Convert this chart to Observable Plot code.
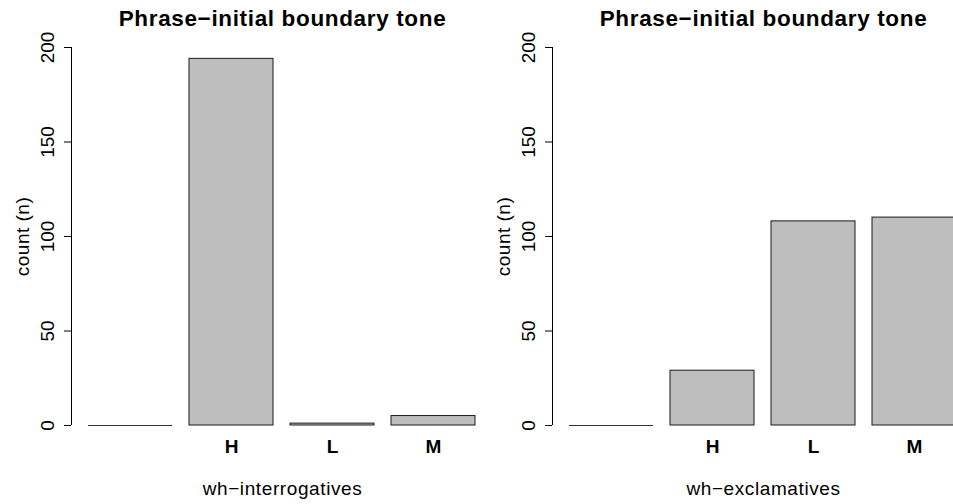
<!DOCTYPE html>
<html><head><meta charset="utf-8">
<script src="https://cdn.jsdelivr.net/npm/d3@7"></script>
<script src="https://cdn.jsdelivr.net/npm/@observablehq/plot@0.6"></script>
<style>
body{margin:0;background:#fff;overflow:hidden}
#wrap{position:relative;width:953px;height:504px;overflow:hidden;background:#fff}
.panel{position:absolute;top:0;width:493px;height:504px}
.panel svg{background:transparent !important;overflow:visible;max-width:none !important}
</style>
</head><body><div id="wrap"></div>
<script>
const categories = ["", "H", "L", "M"];
const interrogatives = [0, 194, 1, 5];
const exclamatives = [0, 29, 108, 110];
const yTicks = [0, 50, 100, 150, 200];
const title = "Phrase\u2212initial boundary tone";
const yLabel = "count (n)";
const panelNames = ["wh\u2212interrogatives", "wh\u2212exclamatives"];
const panelValues = [interrogatives, exclamatives];

const wrap = document.getElementById("wrap");
const font = "'Liberation Sans', Arial, Helvetica, sans-serif";

// y axis line spanning the tick range, drawn through the plot's own y scale
function axisLine(index, scales, values, dimensions) {
  const ln = document.createElementNS("http://www.w3.org/2000/svg", "line");
  const x = dimensions.marginLeft + 0.5;
  ln.setAttribute("x1", x);
  ln.setAttribute("x2", x);
  ln.setAttribute("y1", scales.y(d3.min(yTicks)));
  ln.setAttribute("y2", scales.y(d3.max(yTicks)));
  ln.setAttribute("stroke", "black");
  ln.setAttribute("stroke-width", 1);
  return ln;
}

panelNames.forEach((name, p) => {
  const data = categories.map((c, i) => ({cat: c, value: panelValues[p][i]}));
  const chart = Plot.plot({
    width: 493,
    height: 504,
    marginLeft: 71,
    marginRight: 0,
    marginTop: 47,
    marginBottom: 79,
    style: {fontFamily: font, fontSize: "19px", color: "black", background: "transparent", overflow: "visible"},
    x: {domain: categories, paddingInner: 0.2 / 1.2, paddingOuter: 0.1533, axis: null},
    y: {domain: [0, 200], axis: null},
    marks: [
      Plot.barY(data, {x: "cat", y: "value", fill: "#bebebe", stroke: "#1a1a1a", strokeWidth: 1}),
      Plot.tickY(data.filter(d => d.value === 0), {x: "cat", y: "value", stroke: "#333", strokeWidth: 1}),
      Plot.axisY({ticks: yTicks, tickSize: 7, fill: "none", stroke: "black", strokeOpacity: 1, label: null}),
      axisLine,
      Plot.text(yTicks, {y: d => d, text: d => String(d), frameAnchor: "left", textAnchor: "middle", lineAnchor: "middle", dx: -24, rotate: -90, fontSize: 19, fill: "black"}),
      Plot.text(categories, {x: d => d, text: d => d, frameAnchor: "bottom", textAnchor: "middle", lineAnchor: "middle", dy: 21, fontSize: 19, fontWeight: "bold", fill: "black"}),
      Plot.text([title], {text: d => d, frameAnchor: "top", textAnchor: "middle", lineAnchor: "middle", dy: -29, fontSize: 22.5, fontWeight: "bold", fill: "black"}),
      Plot.text([yLabel], {text: d => d, frameAnchor: "left", textAnchor: "middle", lineAnchor: "middle", dx: -49, rotate: -90, fontSize: 19, fill: "black"}),
      Plot.text([name], {text: d => d, frameAnchor: "bottom", textAnchor: "middle", lineAnchor: "middle", dy: 63, fontSize: 19, fill: "black"})
    ]
  });
  d3.select(chart).selectAll("text")
    .filter(function() { return this.textContent === title; })
    .attr("letter-spacing", "0.65px");
  d3.select(chart).selectAll("text")
    .filter(function() { return this.textContent === name; })
    .attr("letter-spacing", "0.6px");
  d3.select(chart).selectAll("text")
    .filter(function() { return this.textContent === yLabel; })
    .attr("letter-spacing", "0.5px");
  const div = document.createElement("div");
  div.className = "panel";
  div.style.left = (p * 481) + "px";
  div.appendChild(chart);
  wrap.appendChild(div);
});
</script>
</body></html>
